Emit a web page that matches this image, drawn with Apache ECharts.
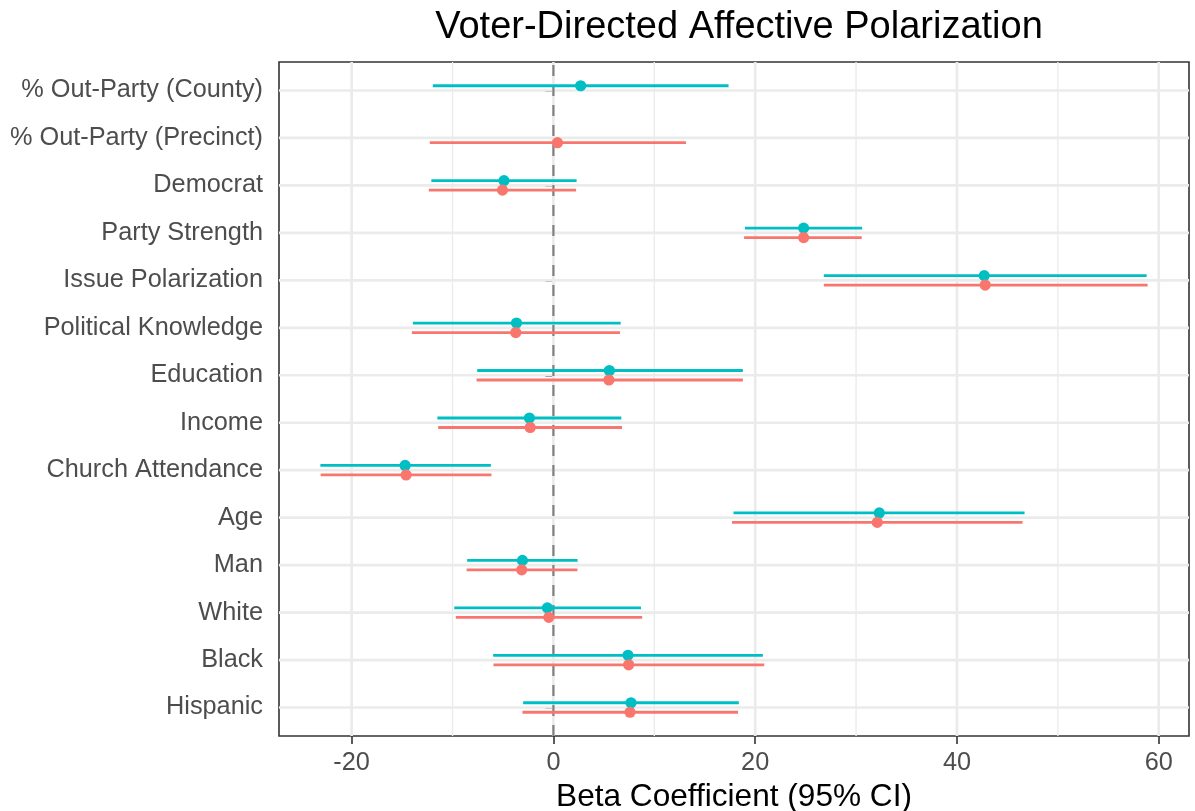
<!DOCTYPE html>
<html>
<head>
<meta charset="utf-8">
<title>Voter-Directed Affective Polarization</title>
<script src="https://cdn.jsdelivr.net/npm/echarts@6/dist/echarts.min.js"></script>
<style>
  html, body { margin: 0; padding: 0; background: #ffffff; }
  #chart { width: 1195px; height: 811px; }
</style>
</head>
<body>
<div id="chart"></div>
<script>
// Predictors, top to bottom
const categories = [
  '% Out-Party (County)', '% Out-Party (Precinct)', 'Democrat', 'Party Strength',
  'Issue Polarization', 'Political Knowledge', 'Education', 'Income',
  'Church Attendance', 'Age', 'Man', 'White', 'Black', 'Hispanic'
];

// County-level model: estimate and 95% interval
const countyEst  = [2.7, null, -4.9, 24.8, 42.7, -3.66, 5.55, -2.38, -14.7, 32.3, -3.07, -0.6, 7.39, 7.69];
const countyLow  = [-11.95, null, -12.1, 18.98, 26.8, -13.93, -7.55, -11.5, -23.1, 17.85, -8.55, -9.83, -5.97, -3.0];
const countyHigh = [17.36, null, 2.3, 30.6, 58.8, 6.67, 18.78, 6.73, -6.2, 46.7, 2.4, 8.68, 20.76, 18.38];

// Precinct-level model: estimate and 95% interval
const precinctEst  = [null, 0.4, -5.05, 24.8, 42.8, -3.73, 5.5, -2.3, -14.6, 32.1, -3.14, -0.46, 7.46, 7.59];
const precinctLow  = [null, -12.25, -12.35, 18.9, 26.8, -14.03, -7.62, -11.42, -23.07, 17.7, -8.6, -9.67, -5.94, -3.07];
const precinctHigh = [null, 13.14, 2.25, 30.56, 58.9, 6.6, 18.78, 6.8, -6.14, 46.5, 2.38, 8.8, 20.9, 18.3];

// x-axis breaks
const majorTicks = [-20, 0, 20, 40, 60];
const minorTicks = [-10, 10, 30, 50];

const TEAL = '#00BFC4';
const SALMON = '#F8766D';
const GRID = '#EBEBEB';
const DODGE = 0.1;

function rows(est, low, high) {
  const out = [];
  est.forEach((e, i) => {
    if (e != null) out.push([i + 1, e, low[i], high[i]]);
  });
  return out;
}

// x range: data span plus 5% on each side
const allVals = countyLow.concat(countyHigh, precinctLow, precinctHigh).filter(v => v != null);
const lo = Math.min(...allVals), hi = Math.max(...allVals);
const pad = (hi - lo) * 0.05;
const xMin = lo - pad, xMax = hi + pad;

function pointRange(color, offset) {
  return function (params, api) {
    const y = api.value(0) + offset;
    const a = api.coord([api.value(2), y]);
    const b = api.coord([api.value(3), y]);
    const c = api.coord([api.value(1), y]);
    return {
      type: 'group',
      children: [
        { type: 'line', shape: { x1: a[0], y1: a[1], x2: b[0], y2: b[1] },
          style: { stroke: color, lineWidth: 2.8 } },
        { type: 'circle', shape: { cx: c[0], cy: c[1], r: 5.6 },
          style: { fill: color } }
      ]
    };
  };
}

const chart = echarts.init(document.getElementById('chart'), null, { renderer: 'canvas' });

const option = {
  backgroundColor: '#ffffff',
  animation: false,
  title: {
    text: 'Voter-Directed Affective Polarization',
    left: 734,
    top: 4,
    textAlign: 'center',
    textStyle: { fontFamily: 'Liberation Sans', fontSize: 38, fontWeight: 'normal', color: '#000000' }
  },
  grid: {
    left: 279, right: 6, top: 62, bottom: 75,
    containLabel: false,
    outerBoundsMode: 'none',
    show: true, borderColor: '#333333', borderWidth: 1.6, backgroundColor: 'transparent'
  },
  xAxis: {
    type: 'value',
    min: xMin, max: xMax,
    name: 'Beta Coefficient (95% CI)',
    nameLocation: 'middle',
    nameGap: 44,
    nameTextStyle: { fontFamily: 'Liberation Sans', fontSize: 31.6, color: '#000000' },
    axisLine: { show: false },
    axisTick: { show: true, length: 8, lineStyle: { color: '#333333', width: 1.6 }, customValues: majorTicks },
    axisLabel: {
      customValues: majorTicks,
      margin: 15,
      fontFamily: 'Liberation Sans', fontSize: 25.3, color: '#4D4D4D',
      formatter: v => (majorTicks.indexOf(v) >= 0 ? String(v) : '')
    },
    splitLine: { show: false }
  },
  yAxis: {
    type: 'value',
    inverse: true,
    min: 0.4, max: categories.length + 0.6,
    axisLine: { show: false },
    axisTick: { show: true, length: 8, lineStyle: { color: '#333333', width: 1.6 },
      customValues: categories.map((c, i) => i + 1) },
    axisLabel: {
      customValues: categories.map((c, i) => i + 1),
      margin: 16,
      fontFamily: 'Liberation Sans', fontSize: 25.3, color: '#4D4D4D',
      formatter: v => (Number.isInteger(v) && v >= 1 && v <= categories.length ? categories[v - 1] : '')
    },
    splitLine: { show: false }
  },
  series: [
    {
      // panel grid: vertical lines at breaks
      type: 'custom', name: 'x-grid', silent: true, z: 1,
      data: majorTicks.map(v => [v, 1, 0]).concat(minorTicks.map(v => [v, 1, 1])),
      encode: { x: 0, y: 1 },
      renderItem: function (params, api) {
        const cs = params.coordSys;
        const x = api.coord([api.value(0), 1])[0];
        const minor = api.value(2) === 1;
        return { type: 'line', shape: { x1: x, y1: cs.y, x2: x, y2: cs.y + cs.height },
          style: { stroke: GRID, lineWidth: minor ? 1.4 : 2.7 } };
      }
    },
    {
      // panel grid: horizontal lines at each predictor
      type: 'custom', name: 'y-grid', silent: true, z: 1,
      data: categories.map((c, i) => [0, i + 1]),
      encode: { x: 0, y: 1 },
      renderItem: function (params, api) {
        const cs = params.coordSys;
        const y = api.coord([0, api.value(1)])[1];
        return { type: 'line', shape: { x1: cs.x, y1: y, x2: cs.x + cs.width, y2: y },
          style: { stroke: GRID, lineWidth: 2.7 } };
      }
    },
    {
      // reference line at zero
      type: 'custom', name: 'zero', silent: true, z: 2,
      data: [[0, 1]],
      encode: { x: 0, y: 1 },
      renderItem: function (params, api) {
        const cs = params.coordSys;
        const x = api.coord([api.value(0), 1])[0];
        return { type: 'line', shape: { x1: x, y1: cs.y + cs.height, x2: x, y2: cs.y },
          style: { stroke: '#808080', lineWidth: 2.2, lineDash: [11, 9] } };
      }
    },
    {
      type: 'custom', name: 'County', z: 3,
      data: rows(countyEst, countyLow, countyHigh),
      encode: { x: [1, 2, 3], y: 0 },
      renderItem: pointRange(TEAL, -DODGE)
    },
    {
      type: 'custom', name: 'Precinct', z: 4,
      data: rows(precinctEst, precinctLow, precinctHigh),
      encode: { x: [1, 2, 3], y: 0 },
      renderItem: pointRange(SALMON, DODGE)
    }
  ]
};

chart.setOption(option);
</script>
</body>
</html>
